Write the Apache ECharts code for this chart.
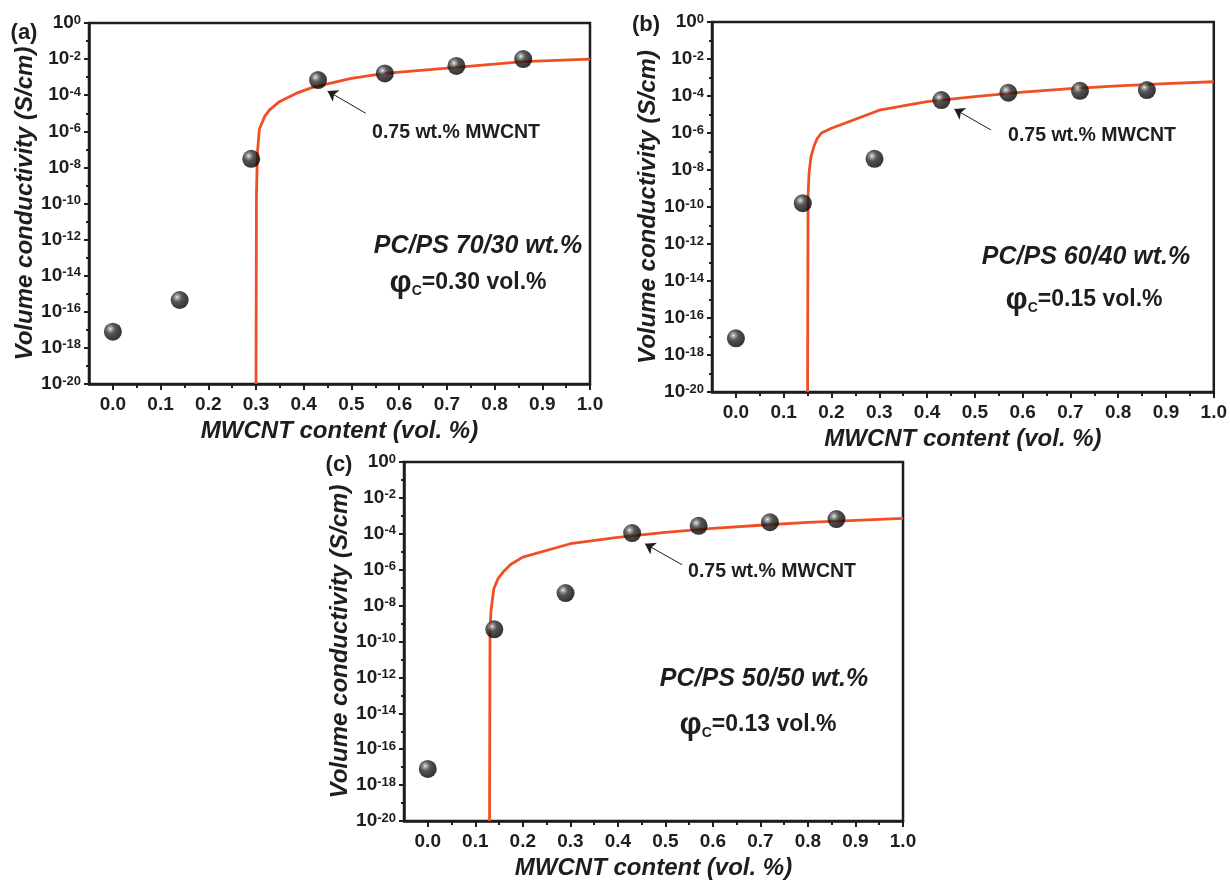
<!DOCTYPE html>
<html>
<head>
<meta charset="utf-8">
<script src="https://cdn.jsdelivr.net/npm/echarts@6/dist/echarts.min.js"></script>
<style>
  html, body { margin: 0; padding: 0; background: #fff; }
  #chart { width: 1230px; height: 881px; }
</style>
</head>
<body>
<div id="chart"></div>
<script>
// MWCNT content (vol.%) of the measured samples, same for the three blends
const xContent = [0, 0.14, 0.29, 0.43, 0.57, 0.72, 0.86];

// measured volume conductivity (S/cm)
const condA = [7.9e-18, 4.5e-16, 3e-8, 6.9e-4, 1.6e-3, 4.2e-3, 1e-2];   // PC/PS 70/30
const condB = [8e-18, 1.6e-10, 4e-8, 6e-5, 1.5e-4, 1.9e-4, 2.1e-4];     // PC/PS 60/40
const condC = [8e-18, 4.8e-10, 5e-8, 1.1e-4, 2.8e-4, 4.4e-4, 6.6e-4];   // PC/PS 50/50

// percolation fit curves: [content, conductivity]
const fitA = [[0.300, 1e-20], [0.301, 3.2e-10], [0.303, 6.3e-8], [0.307, 1.3e-6], [0.318, 6.5e-6],
  [0.328, 1.5e-5], [0.349, 4.4e-5], [0.385, 1.3e-4], [0.42, 2.8e-4], [0.50, 8.5e-4],
  [0.57, 1.6e-3], [0.72, 3.5e-3], [0.86, 7.2e-3], [1.0, 1e-2]];
const fitB = [[0.150, 1e-20], [0.151, 3.2e-10], [0.153, 6.3e-9], [0.157, 5e-8], [0.163, 1.8e-7],
  [0.170, 5e-7], [0.179, 1e-6], [0.2, 1.8e-6], [0.3, 1.7e-5], [0.4, 5e-5], [0.5, 9.3e-5],
  [0.6, 1.6e-4], [0.7, 2.5e-4], [0.8, 3.5e-4], [0.9, 4.7e-4], [1.0, 5.9e-4]];
const fitC = [[0.130, 1e-20], [0.131, 3.2e-10], [0.133, 5e-9], [0.139, 8.7e-8], [0.148, 3.2e-7],
  [0.159, 7.6e-7], [0.175, 2e-6], [0.2, 5e-6], [0.3, 2.8e-5], [0.4, 6.3e-5], [0.5, 1.2e-4],
  [0.6, 2e-4], [0.7, 3e-4], [0.8, 4.3e-4], [0.9, 5.6e-4], [1.0, 7.2e-4]];

// arrow pointing at the 0.75 wt.% sample: [tail, tip]
const arrowA = [[0.53, 1.0e-5], [0.45, 1.7e-4]];
const arrowB = [[0.534, 1.45e-6], [0.457, 2e-5]];
const arrowC = [[0.535, 1.9e-6], [0.457, 2.8e-5]];

// tick labels
const xTicks = [0, 0.1, 0.2, 0.3, 0.4, 0.5, 0.6, 0.7, 0.8, 0.9, 1.0];
const xMinorTicks = [0.05, 0.15, 0.25, 0.35, 0.45, 0.55, 0.65, 0.75, 0.85, 0.95];

const blendNames = ['PC/PS 70/30 wt.%', 'PC/PS 60/40 wt.%', 'PC/PS 50/50 wt.%'];
const phiC = ['0.30', '0.15', '0.13'];
const panelTags = ['(a)', '(b)', '(c)'];

const FONT = '"Liberation Sans", Arial, Helvetica, sans-serif';
const INK = '#1e1e1e';
const RED = '#f04e23';

const grids = [
  {left: 89, top: 23, width: 501, height: 361},
  {left: 712, top: 22, width: 506, height: 370},
  {left: 404, top: 462, width: 499, height: 362}
];

function pairs(xs, ys) {
  return xs.map((x, i) => [x, ys[i]]);
}

const ball = {
  type: 'radial', x: 0.36, y: 0.34, r: 0.66,
  colorStops: [
    {offset: 0, color: '#eeeeee'},
    {offset: 0.16, color: '#8c8c8c'},
    {offset: 0.42, color: '#2a2a2a'},
    {offset: 1, color: '#000000'}
  ]
};

let xAxis = [], yAxis = [], series = [];
const conds = [condA, condB, condC];
const fits = [fitA, fitB, fitC];
const arrows = [arrowA, arrowB, arrowC];

grids.forEach((g, i) => {
  // main x axis: labels + long ticks
  xAxis.push({
    type: 'value', gridIndex: i, position: 'bottom', min: -0.05, max: 1.0,
    name: 'MWCNT content (vol. %)', nameLocation: 'middle', nameGap: 35,
    nameTextStyle: {fontFamily: FONT, fontSize: 24, fontWeight: 'bold', fontStyle: 'italic', color: INK},
    axisLine: {onZero: false, lineStyle: {color: INK, width: 2.5}},
    axisTick: {customValues: xTicks, length: 6, lineStyle: {color: INK, width: 2}},
    axisLabel: {
      customValues: xTicks, margin: 11,
      formatter: v => v.toFixed(1),
      fontFamily: FONT, fontSize: 19, fontWeight: 'bold', color: INK
    },
    splitLine: {show: false}
  });
  // short ticks in between
  xAxis.push({
    type: 'value', gridIndex: i, position: 'bottom', min: -0.05, max: 1.0,
    axisLine: {show: false, onZero: false},
    axisTick: {customValues: xMinorTicks, length: 4, lineStyle: {color: INK, width: 2}},
    axisLabel: {show: false},
    splitLine: {show: false}
  });
  yAxis.push({
    type: 'log', logBase: 10, gridIndex: i, position: 'left', min: 1e-20, max: 1, interval: 2,
    name: 'Volume conductivity (S/cm)', nameLocation: 'middle', nameGap: 52,
    nameTextStyle: {fontFamily: FONT, fontSize: 24, fontWeight: 'bold', fontStyle: 'italic', color: INK},
    axisLine: {show: true, onZero: false, lineStyle: {color: INK, width: 2.5}},
    axisTick: {length: 5, lineStyle: {color: INK, width: 2}},
    axisLabel: {
      margin: 8,
      formatter: v => '{b|10}{s|' + Math.round(Math.log10(v)) + '}',
      rich: {
        b: {fontFamily: FONT, fontSize: 19, fontWeight: 'bold', color: INK},
        s: {fontFamily: FONT, fontSize: 13, fontWeight: 'bold', color: INK, verticalAlign: 'top'}
      }
    },
    splitLine: {show: false}
  });
  yAxis.push({
    type: 'log', logBase: 10, gridIndex: i, position: 'left', min: 1e-20, max: 1, interval: 1,
    axisLine: {show: false, onZero: false},
    axisTick: {length: 3, lineStyle: {color: INK, width: 2}},
    axisLabel: {show: false},
    splitLine: {show: false}
  });

  series.push({
    type: 'line', xAxisIndex: 2 * i, yAxisIndex: 2 * i,
    data: fits[i], showSymbol: false, z: 2,
    lineStyle: {color: RED, width: 2.8}
  });
  series.push({
    type: 'scatter', xAxisIndex: 2 * i, yAxisIndex: 2 * i,
    data: pairs(xContent, conds[i]), symbolSize: 18, z: 3,
    itemStyle: {color: ball},
    markLine: {
      silent: true, symbol: ['none', 'arrow'], symbolSize: 10,
      label: {show: false},
      lineStyle: {color: INK, width: 1, type: 'solid'},
      data: [[{coord: arrows[i][0]}, {coord: arrows[i][1]}]]
    }
  });
});

// annotation positions (pixels)
const notePos = [
  {tag: [24, 33], wt: [456, 133], blend: [478, 246], phi: [468, 283]},
  {tag: [646, 25], wt: [1092, 136], blend: [1086, 257], phi: [1084, 300]},
  {tag: [339, 465], wt: [772, 572], blend: [764, 679], phi: [758, 725]}
];

let graphic = [];
notePos.forEach((p, i) => {
  graphic.push({
    type: 'text', x: p.tag[0], y: p.tag[1],
    style: {text: panelTags[i], font: 'bold 22px ' + FONT, fill: INK, align: 'center', verticalAlign: 'middle'}
  });
  graphic.push({
    type: 'text', x: p.wt[0], y: p.wt[1],
    style: {text: '0.75 wt.% MWCNT', font: 'bold 19.5px ' + FONT, fill: INK, align: 'center', verticalAlign: 'middle'}
  });
  graphic.push({
    type: 'text', x: p.blend[0], y: p.blend[1],
    style: {text: blendNames[i], font: 'italic bold 25px ' + FONT, fill: INK, align: 'center', verticalAlign: 'middle'}
  });
  graphic.push({
    type: 'text', x: p.phi[0], y: p.phi[1],
    style: {
      text: '{p|φ}{c|C}{t|=' + phiC[i] + ' vol.%}',
      align: 'center', verticalAlign: 'middle',
      rich: {
        p: {fontFamily: FONT, fontSize: 31, fontWeight: 'bold', fill: INK},
        c: {fontFamily: FONT, fontSize: 14, fontWeight: 'bold', fill: INK, verticalAlign: 'bottom'},
        t: {fontFamily: FONT, fontSize: 23, fontWeight: 'bold', fill: INK}
      }
    }
  });
});

const chart = echarts.init(document.getElementById('chart'), null, {renderer: 'canvas'});
chart.setOption({
  backgroundColor: '#fff',
  animation: false,
  grid: grids.map(g => Object.assign({show: true, borderColor: INK, borderWidth: 2.5, containLabel: false}, g)),
  xAxis: xAxis,
  yAxis: yAxis,
  series: series,
  graphic: graphic
});
</script>
</body>
</html>
